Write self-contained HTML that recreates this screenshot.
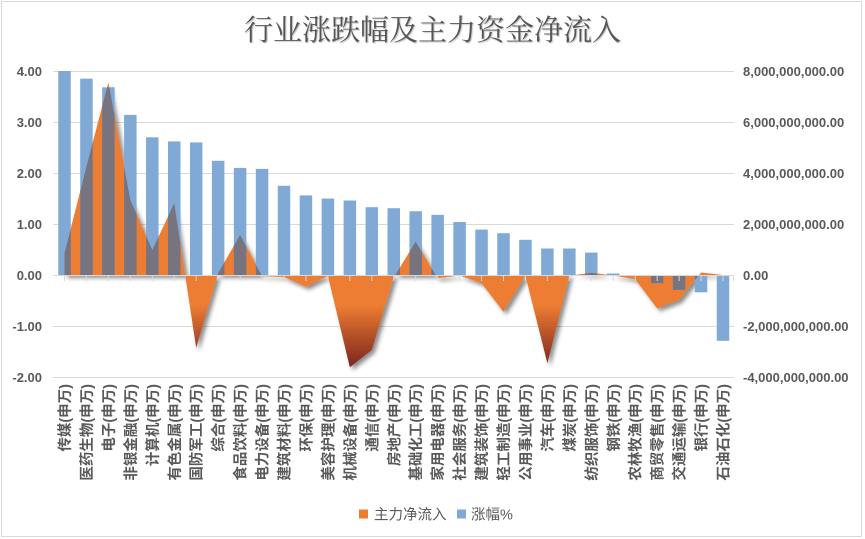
<!DOCTYPE html>
<html>
<head>
<meta charset="utf-8">
<style>
html,body{margin:0;padding:0;background:#fff;}
body{width:865px;height:539px;overflow:hidden;}
svg{display:block;}
.ax{font-family:"Liberation Sans",sans-serif;font-size:13px;font-weight:bold;fill:#595959;}
.cat{font-family:"Liberation Sans","Noto Sans CJK SC",sans-serif;font-size:14.5px;font-weight:bold;fill:#595959;}
.lg{font-family:"Liberation Sans","Noto Sans CJK SC",sans-serif;font-size:14.5px;fill:#595959;}
.title{font-family:"Liberation Serif","Noto Serif CJK SC",serif;font-size:29px;fill:#555;}
</style>
</head>
<body>
<svg width="865" height="539" viewBox="0 0 865 539" xmlns="http://www.w3.org/2000/svg">
<defs>
  <linearGradient id="ag" gradientUnits="userSpaceOnUse" x1="0" y1="82" x2="0" y2="368">
    <stop offset="0" stop-color="#ED7D31"/>
    <stop offset="0.78" stop-color="#ED7D31"/>
    <stop offset="1" stop-color="#7A2320"/>
  </linearGradient>
  <filter id="sh" x="-10%" y="-10%" width="130%" height="130%">
    <feDropShadow dx="3" dy="3" stdDeviation="2.2" flood-color="#000" flood-opacity="0.45"/>
  </filter>
  <clipPath id="areaClip">
    <path d="M64.5,275 L64.5,253.3 L86.45,166.6 L108.4,82.5 L130.35,200 L152.3,250 L174.25,203.3 L196.2,347.9 L218.15,273 L240.1,235 L262.05,276.3 L284,277 L305.95,286.7 L327.9,276 L349.85,367.3 L371.8,350 L393.75,277.5 L415.7,241.6 L437.65,278.3 L459.6,275.5 L481.55,283.2 L503.5,311.7 L525.45,276 L547.4,363.2 L569.35,275.8 L591.3,272.7 L613.25,275.5 L635.2,279.3 L657.15,308.4 L679.1,300 L701.05,272.5 L723,275 Z"/>
  </clipPath>
</defs>

<rect x="0" y="0" width="865" height="539" fill="#fff"/>
<rect x="1.5" y="1.5" width="860" height="535" fill="#fff" stroke="#d9d9d9" stroke-width="1"/>

<text class="title" x="432.5" y="40" text-anchor="middle" style="text-shadow:1px 1px 1px rgba(0,0,0,0.25)">行业涨跌幅及主力资金净流入</text>

<!-- gridlines -->
<g stroke="#d9d9d9" stroke-width="1">
  <line x1="53" y1="71.5" x2="734" y2="71.5"/>
  <line x1="53" y1="122.5" x2="734" y2="122.5"/>
  <line x1="53" y1="173.5" x2="734" y2="173.5"/>
  <line x1="53" y1="224.5" x2="734" y2="224.5"/>
  <line x1="53" y1="326.5" x2="734" y2="326.5"/>
  <line x1="53" y1="377.5" x2="734" y2="377.5"/>
</g>

<!-- left axis labels -->
<g class="ax" text-anchor="end">
  <text x="42" y="76">4.00</text>
  <text x="42" y="127">3.00</text>
  <text x="42" y="178">2.00</text>
  <text x="42" y="229">1.00</text>
  <text x="42" y="280">0.00</text>
  <text x="42" y="331">-1.00</text>
  <text x="42" y="382">-2.00</text>
</g>
<!-- right axis labels -->
<g class="ax" text-anchor="start">
  <text x="743" y="76">8,000,000,000.00</text>
  <text x="743" y="127">6,000,000,000.00</text>
  <text x="743" y="178">4,000,000,000.00</text>
  <text x="743" y="229">2,000,000,000.00</text>
  <text x="743" y="280">0.00</text>
  <text x="743" y="331">-2,000,000,000.00</text>
  <text x="743" y="382">-4,000,000,000.00</text>
</g>

<!-- area series -->
<path filter="url(#sh)" fill="url(#ag)" d="M64.5,275 L64.5,253.3 L86.45,166.6 L108.4,82.5 L130.35,200 L152.3,250 L174.25,203.3 L196.2,347.9 L218.15,273 L240.1,235 L262.05,276.3 L284,277 L305.95,286.7 L327.9,276 L349.85,367.3 L371.8,350 L393.75,277.5 L415.7,241.6 L437.65,278.3 L459.6,275.5 L481.55,283.2 L503.5,311.7 L525.45,276 L547.4,363.2 L569.35,275.8 L591.3,272.7 L613.25,275.5 L635.2,279.3 L657.15,308.4 L679.1,300 L701.05,272.5 L723,275 Z"/>

<!-- bars -->
<g id="bars" fill="#80AAD5">
  <rect x="58.25" y="71" width="12.5" height="204"/>
  <rect x="80.2" y="78.65" width="12.5" height="196.35"/>
  <rect x="102.15" y="87.3" width="12.5" height="187.7"/>
  <rect x="124.1" y="114.9" width="12.5" height="160.1"/>
  <rect x="146.05" y="137.3" width="12.5" height="137.7"/>
  <rect x="168" y="141.4" width="12.5" height="133.6"/>
  <rect x="189.95" y="142.4" width="12.5" height="132.6"/>
  <rect x="211.9" y="160.8" width="12.5" height="114.2"/>
  <rect x="233.85" y="167.9" width="12.5" height="107.1"/>
  <rect x="255.8" y="168.9" width="12.5" height="106.1"/>
  <rect x="277.75" y="185.75" width="12.5" height="89.25"/>
  <rect x="299.7" y="195.4" width="12.5" height="79.6"/>
  <rect x="321.65" y="198.5" width="12.5" height="76.5"/>
  <rect x="343.6" y="200.5" width="12.5" height="74.5"/>
  <rect x="365.55" y="207.2" width="12.5" height="67.8"/>
  <rect x="387.5" y="208.2" width="12.5" height="66.8"/>
  <rect x="409.45" y="211.25" width="12.5" height="63.75"/>
  <rect x="431.4" y="214.8" width="12.5" height="60.2"/>
  <rect x="453.35" y="222" width="12.5" height="53"/>
  <rect x="475.3" y="229.6" width="12.5" height="45.4"/>
  <rect x="497.25" y="233.2" width="12.5" height="41.8"/>
  <rect x="519.2" y="239.8" width="12.5" height="35.2"/>
  <rect x="541.15" y="248.5" width="12.5" height="26.5"/>
  <rect x="563.1" y="248.5" width="12.5" height="26.5"/>
  <rect x="585.05" y="252.6" width="12.5" height="22.4"/>
  <rect x="607" y="273.5" width="12.5" height="1.5"/>
  <rect x="650.9" y="275" width="12.5" height="8.2"/>
  <rect x="672.85" y="275" width="12.5" height="14.8"/>
  <rect x="694.8" y="275" width="12.5" height="17.3"/>
  <rect x="716.75" y="275" width="12.5" height="65.8"/>
</g>
<!-- overlap (bars over area) -->
<g clip-path="url(#areaClip)" fill="#77737F">
  <rect x="58.25" y="71" width="12.5" height="204"/>
  <rect x="80.2" y="78.65" width="12.5" height="196.35"/>
  <rect x="102.15" y="87.3" width="12.5" height="187.7"/>
  <rect x="124.1" y="114.9" width="12.5" height="160.1"/>
  <rect x="146.05" y="137.3" width="12.5" height="137.7"/>
  <rect x="168" y="141.4" width="12.5" height="133.6"/>
  <rect x="189.95" y="142.4" width="12.5" height="132.6"/>
  <rect x="211.9" y="160.8" width="12.5" height="114.2"/>
  <rect x="233.85" y="167.9" width="12.5" height="107.1"/>
  <rect x="255.8" y="168.9" width="12.5" height="106.1"/>
  <rect x="277.75" y="185.75" width="12.5" height="89.25"/>
  <rect x="299.7" y="195.4" width="12.5" height="79.6"/>
  <rect x="321.65" y="198.5" width="12.5" height="76.5"/>
  <rect x="343.6" y="200.5" width="12.5" height="74.5"/>
  <rect x="365.55" y="207.2" width="12.5" height="67.8"/>
  <rect x="387.5" y="208.2" width="12.5" height="66.8"/>
  <rect x="409.45" y="211.25" width="12.5" height="63.75"/>
  <rect x="431.4" y="214.8" width="12.5" height="60.2"/>
  <rect x="453.35" y="222" width="12.5" height="53"/>
  <rect x="475.3" y="229.6" width="12.5" height="45.4"/>
  <rect x="497.25" y="233.2" width="12.5" height="41.8"/>
  <rect x="519.2" y="239.8" width="12.5" height="35.2"/>
  <rect x="541.15" y="248.5" width="12.5" height="26.5"/>
  <rect x="563.1" y="248.5" width="12.5" height="26.5"/>
  <rect x="585.05" y="252.6" width="12.5" height="22.4"/>
  <rect x="607" y="273.5" width="12.5" height="1.5"/>
  <rect x="650.9" y="275" width="12.5" height="8.2"/>
  <rect x="672.85" y="275" width="12.5" height="14.8"/>
  <rect x="694.8" y="275" width="12.5" height="17.3"/>
  <rect x="716.75" y="275" width="12.5" height="65.8"/>
</g>

<!-- x axis & ticks -->
<g stroke="#d9d9d9" stroke-width="1">
  <line x1="53" y1="275.5" x2="734" y2="275.5"/>
  <path d="M64.5,275V281 M86.45,275V281 M108.4,275V281 M130.35,275V281 M152.3,275V281 M174.25,275V281 M196.2,275V281 M218.15,275V281 M240.1,275V281 M262.05,275V281 M284,275V281 M305.95,275V281 M327.9,275V281 M349.85,275V281 M371.8,275V281 M393.75,275V281 M415.7,275V281 M437.65,275V281 M459.6,275V281 M481.55,275V281 M503.5,275V281 M525.45,275V281 M547.4,275V281 M569.35,275V281 M591.3,275V281 M613.25,275V281 M635.2,275V281 M657.15,275V281 M679.1,275V281 M701.05,275V281 M723,275V281 M733.5,275V281"/>
</g>

<!-- category labels -->
<g class="cat" text-anchor="end">
  <text transform="translate(64.5,384) rotate(-90)" dy="0.38em">传媒(申万)</text>
  <text transform="translate(86.45,384) rotate(-90)" dy="0.38em">医药生物(申万)</text>
  <text transform="translate(108.4,384) rotate(-90)" dy="0.38em">电子(申万)</text>
  <text transform="translate(130.35,384) rotate(-90)" dy="0.38em">非银金融(申万)</text>
  <text transform="translate(152.3,384) rotate(-90)" dy="0.38em">计算机(申万)</text>
  <text transform="translate(174.25,384) rotate(-90)" dy="0.38em">有色金属(申万)</text>
  <text transform="translate(196.2,384) rotate(-90)" dy="0.38em">国防军工(申万)</text>
  <text transform="translate(218.15,384) rotate(-90)" dy="0.38em">综合(申万)</text>
  <text transform="translate(240.1,384) rotate(-90)" dy="0.38em">食品饮料(申万)</text>
  <text transform="translate(262.05,384) rotate(-90)" dy="0.38em">电力设备(申万)</text>
  <text transform="translate(284,384) rotate(-90)" dy="0.38em">建筑材料(申万)</text>
  <text transform="translate(305.95,384) rotate(-90)" dy="0.38em">环保(申万)</text>
  <text transform="translate(327.9,384) rotate(-90)" dy="0.38em">美容护理(申万)</text>
  <text transform="translate(349.85,384) rotate(-90)" dy="0.38em">机械设备(申万)</text>
  <text transform="translate(371.8,384) rotate(-90)" dy="0.38em">通信(申万)</text>
  <text transform="translate(393.75,384) rotate(-90)" dy="0.38em">房地产(申万)</text>
  <text transform="translate(415.7,384) rotate(-90)" dy="0.38em">基础化工(申万)</text>
  <text transform="translate(437.65,384) rotate(-90)" dy="0.38em">家用电器(申万)</text>
  <text transform="translate(459.6,384) rotate(-90)" dy="0.38em">社会服务(申万)</text>
  <text transform="translate(481.55,384) rotate(-90)" dy="0.38em">建筑装饰(申万)</text>
  <text transform="translate(503.5,384) rotate(-90)" dy="0.38em">轻工制造(申万)</text>
  <text transform="translate(525.45,384) rotate(-90)" dy="0.38em">公用事业(申万)</text>
  <text transform="translate(547.4,384) rotate(-90)" dy="0.38em">汽车(申万)</text>
  <text transform="translate(569.35,384) rotate(-90)" dy="0.38em">煤炭(申万)</text>
  <text transform="translate(591.3,384) rotate(-90)" dy="0.38em">纺织服饰(申万)</text>
  <text transform="translate(613.25,384) rotate(-90)" dy="0.38em">钢铁(申万)</text>
  <text transform="translate(635.2,384) rotate(-90)" dy="0.38em">农林牧渔(申万)</text>
  <text transform="translate(657.15,384) rotate(-90)" dy="0.38em">商贸零售(申万)</text>
  <text transform="translate(679.1,384) rotate(-90)" dy="0.38em">交通运输(申万)</text>
  <text transform="translate(701.05,384) rotate(-90)" dy="0.38em">银行(申万)</text>
  <text transform="translate(723,384) rotate(-90)" dy="0.38em">石油石化(申万)</text>
</g>

<!-- legend -->
<rect x="359" y="509.5" width="9" height="9" fill="#ED7D31"/>
<text class="lg" x="374" y="519.5">主力净流入</text>
<rect x="457" y="509.5" width="9" height="9" fill="#80AAD5"/>
<text class="lg" x="471" y="519.5">涨幅%</text>
</svg>
</body>
</html>
